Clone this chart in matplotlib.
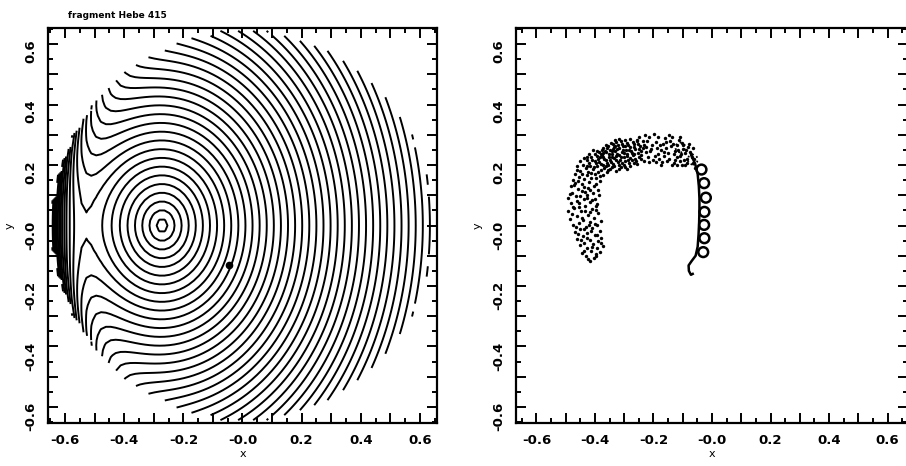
import numpy as np
import matplotlib.pyplot as plt
from matplotlib.ticker import MultipleLocator, FuncFormatter

plt.rcParams['font.family'] = 'DejaVu Sans'
plt.rcParams['font.weight'] = 'bold'

# ---- left panel: potential model (fragment well + steep drop at the left rim)
frag_x, frag_y, frag_q = -0.272, 0.0, 1.2
disk_r = 0.65
rim_scale, rim_depth, rim_spread = 0.05, 11.0, 0.15
level_start, level_step = 0.018, 0.024
n_below, n_above = 12, 46
probe_x, probe_y = -0.047, -0.13

# ---- right panel: particle cloud
cloud_x = [-0.418, -0.404, -0.431, -0.397, -0.383, -0.443, -0.414, -0.392, -0.427, -0.372,
           -0.452, -0.406, -0.437, -0.388, -0.418, -0.461, -0.379, -0.442, -0.401, -0.426,
           -0.468, -0.384, -0.451, -0.409, -0.432, -0.393, -0.474, -0.456, -0.417, -0.379,
           -0.486, -0.441, -0.402, -0.463, -0.424, -0.388, -0.491, -0.449, -0.411, -0.472,
           -0.433, -0.396, -0.481, -0.454, -0.418, -0.439, -0.401, -0.493, -0.466, -0.427,
           -0.408, -0.477, -0.446, -0.391, -0.459, -0.424, -0.483, -0.404, -0.443, -0.467,
           -0.419, -0.383, -0.474, -0.438, -0.398, -0.456, -0.429, -0.469, -0.371, -0.412,
           -0.451, -0.388,
           -0.432, -0.408, -0.381, -0.359, -0.441, -0.419, -0.394, -0.368, -0.347, -0.328,
           -0.426, -0.401, -0.379, -0.356, -0.334, -0.312, -0.291, -0.413, -0.388, -0.369,
           -0.344, -0.323, -0.302, -0.279, -0.399, -0.376, -0.353, -0.336, -0.314, -0.296,
           -0.268, -0.386, -0.362, -0.341, -0.319, -0.301, -0.281, -0.259, -0.371, -0.349,
           -0.331, -0.309, -0.289, -0.271, -0.251, -0.356, -0.334, -0.317, -0.293, -0.276,
           -0.254, -0.339, -0.322, -0.303, -0.281, -0.262, -0.241, -0.311, -0.292, -0.266,
           -0.246, -0.331, -0.407, -0.421, -0.436, -0.452, -0.461,
           -0.395, -0.372, -0.348, -0.325, -0.305, -0.285, -0.265, -0.343, -0.365, -0.318,
           -0.296, -0.358, -0.381, -0.337, -0.274, -0.242, -0.416, -0.429,
           -0.233, -0.219, -0.212, -0.226, -0.236, -0.214, -0.198, -0.193, -0.188, -0.183,
           -0.201, -0.171, -0.164, -0.176, -0.168, -0.159, -0.148, -0.144, -0.139, -0.151,
           -0.146, -0.129, -0.121, -0.126, -0.118, -0.113, -0.104, -0.099, -0.106, -0.109,
           -0.094, -0.086, -0.091, -0.081, -0.074, -0.069, -0.064, -0.059, -0.256, -0.249,
           -0.229, -0.206, -0.157,
           -0.425, -0.398, -0.437, -0.409, -0.381, -0.447, -0.428, -0.392, -0.459, -0.414,
           -0.438, -0.466, -0.401, -0.443, -0.478, -0.417, -0.456, -0.392, -0.428, -0.487,
           -0.451, -0.416, -0.437, -0.471, -0.396, -0.458, -0.412, -0.446, -0.382, -0.425,
           -0.462, -0.399, -0.435, -0.409, -0.462, -0.385, -0.475, -0.395, -0.433, -0.421,
           -0.427, -0.403, -0.386, -0.362, -0.339, -0.318, -0.298, -0.411, -0.392, -0.363,
           -0.341, -0.327, -0.307, -0.286, -0.262, -0.393, -0.371, -0.352, -0.329, -0.311,
           -0.291, -0.273, -0.377, -0.358, -0.343, -0.324, -0.302, -0.283, -0.266, -0.248,
           -0.364, -0.346, -0.327, -0.309, -0.287, -0.271, -0.252, -0.233, -0.318, -0.298,
           -0.279, -0.258, -0.236, -0.225, -0.244, -0.258, -0.355, -0.371, -0.384, -0.333,
           -0.221, -0.207, -0.196, -0.217, -0.184, -0.178, -0.181, -0.163, -0.155, -0.156,
           -0.138, -0.131, -0.134, -0.127, -0.116, -0.108, -0.111, -0.098, -0.096, -0.088,
           -0.084, -0.078, -0.071, -0.066, -0.061, -0.173, -0.192, -0.137, -0.118, -0.101]
cloud_y = [-0.118, -0.108, -0.101, -0.094, -0.088, -0.091, -0.083, -0.076, -0.073, -0.069,
           -0.066, -0.062, -0.057, -0.052, -0.047, -0.043, -0.041, -0.036, -0.031, -0.026,
           -0.022, -0.019, -0.013, -0.009, -0.004, 0.001, 0.003, 0.009, 0.012, 0.014,
           0.021, 0.017, 0.026, 0.032, 0.036, 0.041, 0.047, 0.049, 0.053, 0.058,
           0.063, 0.066, 0.073, 0.076, 0.079, 0.086, 0.089, 0.091, 0.096, 0.101,
           0.106, 0.109, 0.113, 0.116, 0.121, 0.123, 0.129, 0.131, 0.136, 0.141,
           0.143, 0.147, 0.151, 0.153, 0.157, 0.161, 0.166, 0.171, 0.167, 0.172,
           0.179, 0.178,
           0.189, 0.186, 0.182, 0.176, 0.201, 0.206, 0.196, 0.191, 0.186, 0.181,
           0.216, 0.213, 0.204, 0.201, 0.196, 0.192, 0.186, 0.226, 0.221, 0.219,
           0.211, 0.209, 0.201, 0.197, 0.236, 0.233, 0.227, 0.223, 0.217, 0.213,
           0.206, 0.244, 0.243, 0.237, 0.233, 0.227, 0.223, 0.214, 0.256, 0.251,
           0.247, 0.243, 0.237, 0.233, 0.226, 0.263, 0.259, 0.256, 0.251, 0.246,
           0.241, 0.271, 0.267, 0.263, 0.259, 0.253, 0.247, 0.279, 0.273, 0.269,
           0.263, 0.283, 0.248, 0.238, 0.224, 0.212, 0.196,
           0.208, 0.228, 0.218, 0.238, 0.249, 0.208, 0.238, 0.192, 0.247, 0.199,
           0.264, 0.208, 0.238, 0.252, 0.216, 0.232, 0.196, 0.228,
           0.212, 0.227, 0.246, 0.261, 0.279, 0.291, 0.301, 0.276, 0.256, 0.236,
           0.216, 0.209, 0.231, 0.251, 0.271, 0.289, 0.298, 0.281, 0.262, 0.241,
           0.221, 0.206, 0.226, 0.246, 0.266, 0.284, 0.274, 0.254, 0.236, 0.214,
           0.201, 0.221, 0.241, 0.259, 0.244, 0.226, 0.206, 0.191, 0.281, 0.292,
           0.299, 0.266, 0.256,
           -0.112, -0.101, -0.084, -0.071, -0.058, -0.049, -0.041, -0.033, -0.029, -0.019,
           -0.011, -0.006, 0.006, 0.024, 0.037, 0.043, 0.061, 0.071, 0.091, 0.103,
           0.097, 0.118, 0.126, 0.133, 0.138, 0.146, 0.156, 0.171, 0.163, 0.178,
           0.183, 0.169, 0.111, 0.083, 0.081, 0.102, 0.061, 0.051, 0.049, 0.003,
           0.197, 0.192, 0.211, 0.198, 0.203, 0.186, 0.193, 0.218, 0.229, 0.215,
           0.226, 0.216, 0.208, 0.216, 0.221, 0.247, 0.241, 0.236, 0.229, 0.226,
           0.229, 0.241, 0.249, 0.257, 0.246, 0.252, 0.241, 0.248, 0.258, 0.253,
           0.266, 0.273, 0.276, 0.269, 0.266, 0.276, 0.271, 0.266, 0.286, 0.283,
           0.286, 0.284, 0.256, 0.243, 0.219, 0.202, 0.182, 0.201, 0.226, 0.262,
           0.281, 0.252, 0.231, 0.209, 0.291, 0.266, 0.221, 0.244, 0.213, 0.276,
           0.291, 0.236, 0.271, 0.216, 0.251, 0.294, 0.231, 0.266, 0.218, 0.249,
           0.207, 0.271, 0.236, 0.256, 0.221, 0.199, 0.211, 0.201, 0.201, 0.199]

# trajectory of the looping particle
path_x = [-0.070, -0.058, -0.049, -0.045, -0.043, -0.043, -0.044, -0.046, -0.049, -0.056,
          -0.070, -0.080, -0.079, -0.072, -0.066]
path_y = [0.230, 0.205, 0.170, 0.130, 0.090, 0.050, 0.010, -0.030, -0.070, -0.100,
          -0.118, -0.132, -0.150, -0.163, -0.160]
loop_x = [-0.036, -0.027, -0.021, -0.026, -0.027, -0.026, -0.030]
loop_y = [0.185, 0.140, 0.092, 0.045, 0.002, -0.042, -0.088]
dotloop_x = [-0.108, -0.066]
dotloop_y = [0.258, 0.218]

tick_labels = {-6: '-0.6', -4: '-0.4', -2: '-0.2', 0: '-0.0', 2: '0.2', 4: '0.4', 6: '0.6'}


def fmt(v, pos):
    return tick_labels.get(int(round(v * 10)), '')


def style(ax, xlim, ylim):
    ax.set_xlim(xlim)
    ax.set_ylim(ylim)
    for a in (ax.xaxis, ax.yaxis):
        a.set_major_locator(MultipleLocator(0.1))
        a.set_minor_locator(MultipleLocator(0.05))
        a.set_major_formatter(FuncFormatter(fmt))
    ax.tick_params(which='both', direction='in', top=True, right=True, width=1.4)
    ax.tick_params(which='major', length=7, labelsize=9.5, pad=8)
    ax.tick_params(which='minor', length=3.5)
    ax.tick_params(axis='y', labelrotation=90)
    for s in ax.spines.values():
        s.set_linewidth(1.6)
    ax.set_xlabel('x', fontsize=8)
    ax.set_ylabel('y', fontsize=8)
    ax.xaxis.set_label_coords(0.5, -0.065)
    ax.yaxis.set_label_coords(-0.085, 0.5)


fig = plt.figure(figsize=(9.06, 4.66), dpi=100)
ax1 = fig.add_axes([48 / 906, 43 / 466, 389 / 906, 395 / 466])
ax2 = fig.add_axes([516 / 906, 43 / 466, 392 / 906, 395 / 466])

# left: contours of the model potential, only inside the computing disk
g = np.linspace(-0.66, 0.66, 81)
X, Y = np.meshgrid(g, g)
R = np.hypot(X, Y)
cos_left = -X / np.maximum(R, 1e-9)
Z = np.sqrt((X - frag_x) ** 2 + ((Y - frag_y) / frag_q) ** 2) \
    - rim_scale * rim_depth * np.exp(-(1 - cos_left) / rim_spread) \
    * np.exp(-(disk_r - R) / rim_scale)
Z = np.ma.masked_where(R > disk_r, Z)
levels = level_start + level_step * np.arange(-n_below, n_above)
ax1.contour(X, Y, Z, levels=levels, colors='k', linewidths=1.4, linestyles='solid')
ax1.plot(probe_x, probe_y, 'o', color='k', ms=4.5)
style(ax1, (-0.658, 0.658), (-0.653, 0.653))

# right: particles
ax2.scatter(cloud_x, cloud_y, s=6, color='k', linewidths=0)
ax2.plot(path_x, path_y, color='k', lw=1.8)
ax2.scatter(loop_x, loop_y, s=50, facecolors='none', edgecolors='k', linewidths=1.8)
ax2.scatter(dotloop_x, dotloop_y, s=50, facecolors='none', edgecolors='k',
            linewidths=1.3, linestyles=':')
style(ax2, (-0.67, 0.67), (-0.653, 0.653))

fig.text(68 / 906, 1 - 16 / 466, 'fragment Hebe 415', fontsize=6.5, va='center')

fig.savefig('out.png', dpi=100)
